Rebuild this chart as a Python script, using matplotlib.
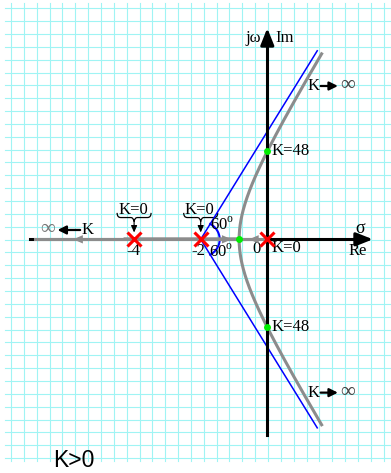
import numpy as np
import matplotlib.pyplot as plt
from matplotlib.path import Path
from matplotlib.patches import PathPatch

plt.rcParams['font.family'] = ['Liberation Serif', 'DejaVu Serif']
plt.rcParams['mathtext.fontset'] = 'custom'
plt.rcParams['mathtext.rm'] = 'Liberation Serif'

# open-loop poles of G(s) = K / (s (s+2) (s+4))
poles = [0.0, -2.0, -4.0]
centroid = -2.0
asym_deg = 60
k_break = 3.079        # gain at the breakaway point
s_break = -0.845       # breakaway point on the real axis
k_cross = 48           # gain where the locus crosses the jw axis
w_cross = 2.83
k_end = 354            # last gain drawn on the complex branches
asym_end = 1.5         # sigma where the asymptote lines stop
left_end = -6.98       # sigma where the left real-axis branch stops

GRAY = '#8c8c8c'

fig = plt.figure(figsize=(3.91, 4.73), dpi=100)

# graph-paper background in pixel units
bg = fig.add_axes([0, 0, 1, 1], zorder=-1)
bg.set_xlim(0, 391)
bg.set_ylim(473, 0)
bg.axis('off')
step = 12.85
for i in range(30):
    x = 11 + i * step
    bg.plot([x, x], [3, 461], color='#a0f4f4', lw=0.8)
for j in range(36):
    y = 8.3 + j * step
    bg.plot([5, 391], [y, y], color='#a0f4f4', lw=0.8)

ax = fig.add_axes([0, 0, 1, 1])
ax.set_xlim(-8.027, 3.715)
ax.set_ylim(-7.514, 7.695)
ax.axis('off')

# real axis
ax.plot([-7.13, 2.7], [0, 0], color='black', lw=2.2, zorder=2)
ax.annotate('', xy=(3.17, 0), xytext=(2.6, 0),
            arrowprops=dict(arrowstyle='-|>,head_length=1.0,head_width=0.4',
                            color='black', lw=2.2, shrinkA=0, shrinkB=0), zorder=2)

# asymptotes
for sgn in (1, -1):
    a = np.deg2rad(asym_deg)
    ax.plot([centroid, asym_end], [0, sgn * (asym_end - centroid) * np.tan(a)],
            color='blue', lw=1.1, zorder=3)
t = np.linspace(-np.deg2rad(asym_deg), np.deg2rad(asym_deg), 60)
ax.plot(centroid + 0.57 * np.cos(t), 0.57 * np.sin(t), color='blue', lw=1.5, zorder=3)

# real-axis parts of the locus
ax.plot([left_end, poles[2]], [0, 0], color=GRAY, lw=2.2, zorder=4)
ax.plot([poles[1], poles[0]], [0, 0], color=GRAY, lw=2.2, zorder=4)
gray_head = dict(arrowstyle='-|>,head_length=0.7,head_width=0.3', color=GRAY, lw=0,
                 shrinkA=0, shrinkB=0)
ax.annotate('', xy=(-5.83, 0), xytext=(-5.5, 0), arrowprops=gray_head, zorder=4)
ax.annotate('', xy=(-1.07, 0), xytext=(-1.4, 0), arrowprops=gray_head, zorder=4)
ax.annotate('', xy=(-0.55, 0), xytext=(-0.2, 0), arrowprops=gray_head, zorder=4)

# complex branches from the characteristic polynomial
den = np.poly(poles)
gains = k_break + (k_end - k_break) * np.linspace(0, 1, 600) ** 3
branch = []
for k in gains:
    r = np.roots(den + np.array([0, 0, 0, k]))
    branch.append(r[np.argmax(r.imag)])
branch = np.array(branch)
branch_re = np.concatenate([[s_break], branch.real])
branch_im = np.concatenate([[0], np.abs(branch.imag)])
ax.plot(branch_re, branch_im, color=GRAY, lw=2.2, zorder=4)
ax.plot(branch_re, -branch_im, color=GRAY, lw=2.2, zorder=4)

# imaginary axis
ax.plot([0, 0], [-6.29, 6.3], color='black', lw=2.2, zorder=5)
ax.annotate('', xy=(0, 6.79), xytext=(0, 6.2),
            arrowprops=dict(arrowstyle='-|>,head_length=1.0,head_width=0.4',
                            color='black', lw=2.2, shrinkA=0, shrinkB=0), zorder=5)

# poles and special points
ax.plot(poles, [0] * len(poles), 'x', color='red', ms=9.5, mew=2.2, zorder=6)
ax.plot([s_break, 0, 0], [0, w_cross, -w_cross], 'o', color='#00ee00',
        ms=5, mec='none', zorder=6)

fs = 12
small_arrow = dict(arrowstyle='-|>,head_length=0.5,head_width=0.25',
                   color='black', lw=1.6, shrinkA=0, shrinkB=0)
ax.text(-0.20, 6.47, 'jω', fontsize=fs, ha='right', va='center')
ax.text(0.23, 6.47, 'Im', fontsize=fs, ha='left', va='center')
ax.text(2.78, 0.36, 'σ', fontsize=fs + 1, ha='center', va='center')
ax.text(2.72, -0.38, 'Re', fontsize=fs, ha='center', va='center')
ax.text(-0.32, -0.32, '0', fontsize=fs, ha='center', va='center')
ax.text(0.12, -0.28, 'K=0', fontsize=fs, ha='left', va='center')
ax.text(-2.08, -0.38, '-2', fontsize=fs, ha='center', va='center')
ax.text(-4.03, -0.38, '-4', fontsize=fs, ha='center', va='center')
ax.text(-1.72, 0.47, '60$^{\\rm o}$', fontsize=fs, ha='left', va='center')
ax.text(-1.74, -0.42, '60$^{\\rm o}$', fontsize=fs, ha='left', va='center')
for sgn in (1, -1):
    ax.text(0.13, sgn * w_cross, 'K=%d' % k_cross, fontsize=fs, ha='left', va='center')
    yk = sgn * 4.93
    ax.text(1.40, yk, 'K', fontsize=fs, ha='center', va='center')
    ax.annotate('', xy=(2.12, yk), xytext=(1.60, yk), arrowprops=small_arrow)
    ax.text(2.40, yk, '∞', fontsize=fs + 3, ha='center', va='center', color='#444444')

# left branch label
ax.text(-6.58, 0.30, '∞', fontsize=fs + 3, ha='center', va='center', color='#777777')
ax.annotate('', xy=(-6.30, 0.30), xytext=(-5.62, 0.30), arrowprops=small_arrow)
ax.text(-5.40, 0.30, 'K', fontsize=fs, ha='center', va='center')

# K=0 braces over the left poles
for cx in (poles[2], poles[1]):
    ax.text(cx - 0.03, 0.80, 'K=0', fontsize=fs, ha='center', va='baseline')
    verts = [(cx - 0.51, 0.85), (cx - 0.51, 0.70), (cx - 0.40, 0.70),
             (cx - 0.10, 0.70), (cx - 0.02, 0.70), (cx, 0.57),
             (cx + 0.02, 0.70), (cx + 0.10, 0.70),
             (cx + 0.40, 0.70), (cx + 0.51, 0.70), (cx + 0.51, 0.85)]
    codes = [Path.MOVETO, Path.CURVE3, Path.CURVE3, Path.LINETO, Path.CURVE3,
             Path.CURVE3, Path.CURVE3, Path.CURVE3, Path.LINETO, Path.CURVE3,
             Path.CURVE3]
    ax.add_patch(PathPatch(Path(verts, codes), fill=False, lw=0.9, color='black'))
    ax.annotate('', xy=(cx, 0.22), xytext=(cx, 0.57),
                arrowprops=dict(arrowstyle='-|>,head_length=0.4,head_width=0.18',
                                color='black', lw=0.8, shrinkA=0, shrinkB=0))

fig.text(53 / 391, 1 / 473, 'K>0', fontsize=16.5,
         family='Liberation Sans', ha='left', va='bottom')

fig.savefig('out.png', dpi=100)
